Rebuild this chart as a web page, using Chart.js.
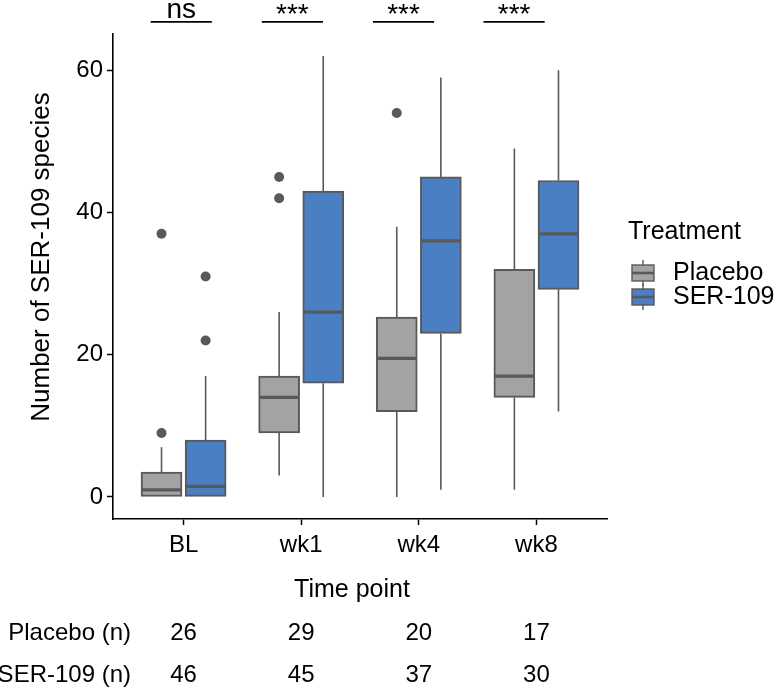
<!DOCTYPE html>
<html>
<head>
<meta charset="utf-8">
<script src="https://cdn.jsdelivr.net/npm/chart.js@4/dist/chart.umd.min.js"></script>
<style>
  body { margin: 0; background: #fff; }
  canvas { display: block; }
</style>
</head>
<body>
<canvas id="chart" width="776" height="691"></canvas>
<script>
const timePoints = ['BL', 'wk1', 'wk4', 'wk8'];
const yTicks = [0, 20, 40, 60];

// Placebo boxes
const placeboMin = [0, 3, 0, 1];
const placeboQ1 = [0, 9, 12, 14];
const placeboMed = [1, 14, 19.5, 17];
const placeboQ3 = [3.5, 17, 25.3, 32];
const placeboMax = [7, 26, 38, 49];
const placeboOut = [[9, 37], [42, 45], [54], []];

// SER-109 boxes
const serMin = [0, 0, 1, 12];
const serQ1 = [0, 16, 23, 29.2];
const serMed = [1.5, 26, 36, 37];
const serQ3 = [8, 43, 45, 44.5];
const serMax = [17, 62, 59, 60];
const serOut = [[22, 31], [], [], []];

const placeboN = [26, 29, 20, 17];
const serN = [46, 45, 37, 30];

// significance brackets (x in category units)
const sigLabels = ['ns', '***', '***', '***'];
const sigCenter = [-0.02, 0.925, 1.87, 2.81];
const sigY = 66.8;

const FONT = "'Liberation Sans', Arial, sans-serif";
const GREY = '#a3a3a3';
const BLUE = '#4a7fc3';
const EDGE = '#595959';
const dodge = 0.1875;
const boxPx = 41;

function groups() {
  return [
    { off: -dodge, min: placeboMin, q1: placeboQ1, med: placeboMed, q3: placeboQ3, max: placeboMax },
    { off: dodge, min: serMin, q1: serQ1, med: serMed, q3: serQ3, max: serMax }
  ];
}

const extras = {
  id: 'extras',
  beforeDatasetsDraw(chart) {
    const ctx = chart.ctx, x = chart.scales.x, y = chart.scales.y;
    ctx.save();
    ctx.strokeStyle = EDGE;
    ctx.lineWidth = 1.6;
    groups().forEach(g => {
      timePoints.forEach((t, i) => {
        const px = x.getPixelForValue(i + g.off);
        ctx.beginPath();
        ctx.moveTo(px, y.getPixelForValue(g.min[i]));
        ctx.lineTo(px, y.getPixelForValue(g.q1[i]));
        ctx.moveTo(px, y.getPixelForValue(g.q3[i]));
        ctx.lineTo(px, y.getPixelForValue(g.max[i]));
        ctx.stroke();
      });
    });
    ctx.restore();
  },
  afterDatasetsDraw(chart) {
    const ctx = chart.ctx, x = chart.scales.x, y = chart.scales.y;
    ctx.save();
    ctx.strokeStyle = EDGE;
    ctx.lineWidth = 3.2;
    groups().forEach(g => {
      timePoints.forEach((t, i) => {
        const px = x.getPixelForValue(i + g.off);
        const py = y.getPixelForValue(g.med[i]);
        ctx.beginPath();
        ctx.moveTo(px - boxPx / 2 + 1, py);
        ctx.lineTo(px + boxPx / 2 - 1, py);
        ctx.stroke();
      });
    });
    ctx.restore();
  },
  afterDraw(chart) {
    const ctx = chart.ctx, x = chart.scales.x, y = chart.scales.y;
    const area = chart.chartArea;
    ctx.save();

    // significance brackets
    const ly = y.getPixelForValue(sigY);
    ctx.strokeStyle = '#000';
    ctx.lineWidth = 1.6;
    ctx.fillStyle = '#000';
    ctx.textAlign = 'center';
    sigLabels.forEach((lab, i) => {
      const x0 = x.getPixelForValue(sigCenter[i] - 0.26);
      const x1 = x.getPixelForValue(sigCenter[i] + 0.26);
      ctx.beginPath();
      ctx.moveTo(x0, ly);
      ctx.lineTo(x1, ly);
      ctx.stroke();
      ctx.textBaseline = 'alphabetic';
      ctx.font = '28px ' + FONT;
      ctx.fillText(lab, (x0 + x1) / 2, lab === 'ns' ? ly - 4 : ly + 1);
    });

    // y title
    ctx.font = '26px ' + FONT;
    ctx.textBaseline = 'middle';
    ctx.save();
    ctx.translate(42, 257);
    ctx.rotate(-Math.PI / 2);
    ctx.fillText('Number of SER-109 species', 0, 0);
    ctx.restore();

    // x title and n table
    ctx.font = '25px ' + FONT;
    ctx.fillText('Time point', (area.left + area.right) / 2 - 8, 590);
    ctx.font = '24px ' + FONT;
    timePoints.forEach((t, i) => {
      const px = x.getPixelForValue(i);
      ctx.fillText(String(placeboN[i]), px, 633);
      ctx.fillText(String(serN[i]), px, 675);
    });
    ctx.textAlign = 'right';
    ctx.fillText('Placebo (n)', 131, 633);
    ctx.fillText('SER-109 (n)', 131, 675);

    // legend
    ctx.textAlign = 'left';
    ctx.font = '25px ' + FONT;
    ctx.fillText('Treatment', 628, 232);
    [['Placebo', GREY, 273], ['SER-109', BLUE, 297]].forEach(([name, col, cy]) => {
      const cx = 643, w = 22, h = 16;
      ctx.strokeStyle = EDGE;
      ctx.lineWidth = 1.4;
      ctx.beginPath();
      ctx.moveTo(cx, cy - h / 2 - 5);
      ctx.lineTo(cx, cy + h / 2 + 5);
      ctx.stroke();
      ctx.fillStyle = col;
      ctx.fillRect(cx - w / 2, cy - h / 2, w, h);
      ctx.strokeRect(cx - w / 2, cy - h / 2, w, h);
      ctx.lineWidth = 2.6;
      ctx.beginPath();
      ctx.moveTo(cx - w / 2, cy);
      ctx.lineTo(cx + w / 2, cy);
      ctx.stroke();
      ctx.fillStyle = '#000';
      ctx.fillText(name, 673, cy);
    });
    ctx.restore();
  }
};

const boxSet = (label, col, g) => ({
  type: 'bar',
  label: label,
  data: timePoints.map((t, i) => ({ x: i + g.off, y: [g.q1[i], g.q3[i]] })),
  backgroundColor: col,
  borderColor: EDGE,
  borderWidth: 2,
  borderSkipped: false,
  barThickness: boxPx,
  grouped: false,
  order: 2
});

const outSet = (off, outs) => ({
  type: 'scatter',
  data: outs.flatMap((arr, i) => arr.map(v => ({ x: i + off, y: v }))),
  pointRadius: 5,
  pointBackgroundColor: EDGE,
  pointBorderWidth: 0,
  order: 1
});

const g = groups();
const axisFont = { family: FONT, size: 24 };

new Chart('chart', {
  data: {
    datasets: [
      boxSet('Placebo', GREY, g[0]),
      boxSet('SER-109', BLUE, g[1]),
      outSet(-dodge, placeboOut),
      outSet(dodge, serOut)
    ]
  },
  options: {
    responsive: false,
    animation: false,
    events: [],
    layout: { padding: { top: 34, right: 169, left: 0, bottom: 0 } },
    plugins: { legend: { display: false }, tooltip: { enabled: false } },
    scales: {
      x: {
        type: 'linear',
        offset: false,
        min: -0.6,
        max: 3.6,
        afterBuildTicks: s => { s.ticks = timePoints.map((t, i) => ({ value: i })); },
        afterFit: s => { s.height = 172; },
        ticks: { callback: v => timePoints[v], font: axisFont, color: '#000', padding: 6, maxRotation: 0 },
        grid: { offset: false, drawOnChartArea: false, tickLength: 6, tickColor: '#000', tickWidth: 1.5 },
        border: { color: '#000', width: 1.6 }
      },
      y: {
        type: 'linear',
        min: -3.1,
        max: 65.1,
        afterBuildTicks: s => { s.ticks = yTicks.map(v => ({ value: v })); },
        afterFit: s => { s.width = 113; },
        ticks: { font: axisFont, color: '#000', padding: 4 },
        grid: { drawOnChartArea: false, tickLength: 6, tickColor: '#000', tickWidth: 1.5 },
        border: { color: '#000', width: 1.6 }
      }
    }
  },
  plugins: [extras]
});
</script>
</body>
</html>
